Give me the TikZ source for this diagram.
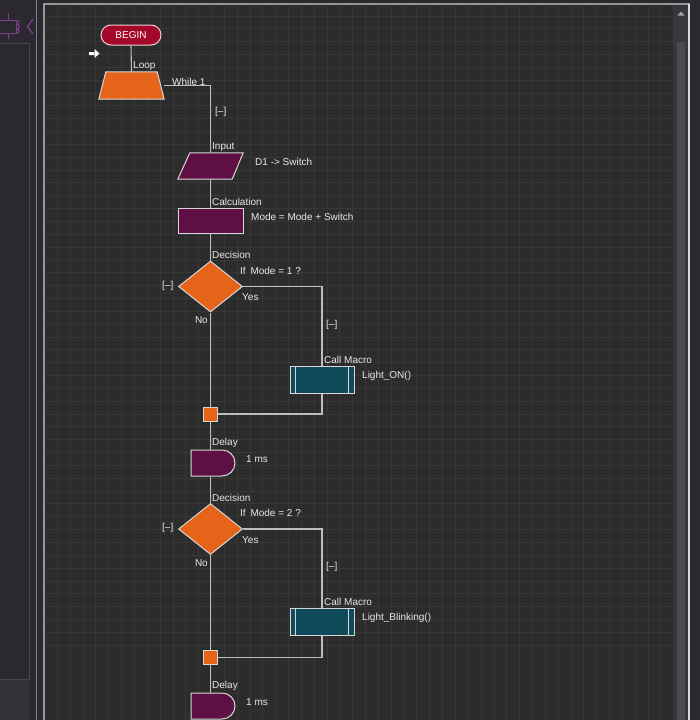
\documentclass[tikz,border=0pt]{standalone}
\usepackage{fontspec}
\setmainfont{Liberation Sans}
\usetikzlibrary{shapes.geometric,shapes.misc}
\definecolor{canvasbg}{RGB}{45,44,45}
\definecolor{gridc}{RGB}{56,55,56}
\definecolor{panelbg}{RGB}{43,40,47}
\definecolor{panelbg2}{RGB}{52,48,56}
\definecolor{panelline}{RGB}{74,70,80}
\definecolor{edgec}{RGB}{150,150,150}
\definecolor{txt}{RGB}{232,232,232}
\definecolor{wirec}{RGB}{190,190,190}
\definecolor{shapeborder}{RGB}{215,215,215}
\definecolor{orng}{RGB}{229,100,25}
\definecolor{magen}{RGB}{94,15,68}
\definecolor{tealc}{RGB}{15,75,91}
\definecolor{redc}{RGB}{163,8,42}
\definecolor{iconc}{RGB}{125,65,140}
\definecolor{scrollbg}{RGB}{58,54,64}
\definecolor{thumbc}{RGB}{75,74,77}
\tikzset{
  shp/.style={draw=shapeborder, line width=1pt, inner sep=0pt},
  box/.style={rectangle, inner sep=0pt},
  lbl/.style={text=txt, font=\fontsize{10}{12}\selectfont, inner sep=0pt, anchor=west},
  lble/.style={lbl, anchor=east},
  wire/.style={draw=wirec, line width=1.1pt},
  callline/.style={draw=shapeborder, line width=0.8pt},
}
\begin{document}
\begin{tikzpicture}[x=1pt,y=-1pt]
\useasboundingbox (0,0) rectangle (700,720);
% backgrounds
\fill[panelbg] (0,0) rectangle (700,720);
\fill[panelbg2] (0,679) rectangle (29,720);
\draw[panelline, line width=1pt] (0,43.5) -- (29.5,43.5) -- (29.5,679) -- (0,679);
\draw[panelline!70, line width=0.6pt] (36,0) -- (36,720);
\fill[canvasbg] (44,4) rectangle (688,720);
\begin{scope}
\clip (45,5) rectangle (673,720);
\foreach \i in {0,...,50} {
  \draw[gridc, line width=0.8pt] (44.5+12.84*\i,4) -- (44.5+12.84*\i,720);
  \draw[gridc, line width=0.8pt] (44,3.1+12.84*\i) -- (688,3.1+12.84*\i);
}
\end{scope}
\draw[edgec, line width=2pt] (44,720) -- (44,4) -- (690,4);
% scrollbar
\fill[scrollbg] (673,5) rectangle (688,720);
\fill[thumbc] (677,42) rectangle (685,720);
\fill[black!35] (677.5,15.5) -- (681,11.5) -- (684.5,15.5) -- cycle;
\draw[black!15, line width=2pt] (689,4) -- (689,720);
% icon top-left
\draw[iconc, line width=1pt] (8,13) -- (8,20) (0,20) -- (16,20) -- (16,33) -- (0,33) (8,33) -- (8,39);
\draw[iconc, line width=1pt] (17,20) arc (-90:90:2.2) arc (-90:90:2.2) arc (-90:90:2.2);
\draw[iconc, line width=1.2pt] (33,19) -- (27.5,26.5) -- (33,34);
% start arrow
\fill[white] (89,52) rectangle (95,55) (94.5,49) -- (99.5,53.5) -- (94.5,58) -- cycle;

% nodes
\node[shp, rounded rectangle, fill=redc, draw=white!80!redc, minimum width=60pt, minimum height=20pt, text=white, font=\fontsize{10}{12}\selectfont] (begin) at (131,35) {BEGIN};
\node[box, minimum width=65pt, minimum height=27pt] (loop) at (131.5,85.5) {};
\filldraw[shp, fill=orng] (loop.south west) -- ([xshift=7pt]loop.north west) -- ([xshift=-7pt]loop.north east) -- (loop.south east) -- cycle;
\node[box, minimum width=65pt, minimum height=26pt] (input) at (210.5,166) {};
\filldraw[shp, fill=magen] (input.south west) -- ([xshift=12pt]input.north west) -- (input.north east) -- ([xshift=-11pt]input.south east) -- cycle;
\node[shp, rectangle, minimum width=65pt, minimum height=25pt, fill=magen] (calc) at (210.5,220.5) {};
\node[shp, diamond, minimum width=64pt, minimum height=51pt, fill=orng] (dec1) at (210.5,286.5) {};
\node[shp, rectangle, minimum width=64pt, minimum height=27pt, fill=tealc] (call1) at (322,379.5) {};
\node[shp, rectangle, minimum width=14pt, minimum height=14pt, fill=orng] (junc1) at (210.5,414) {};
\node[shp, rounded rectangle, rounded rectangle left arc=none, minimum width=44pt, minimum height=26pt, fill=magen] (delay1) at (213,463) {};
\node[shp, diamond, minimum width=64pt, minimum height=51pt, fill=orng] (dec2) at (210.5,529) {};
\node[shp, rectangle, minimum width=64pt, minimum height=27pt, fill=tealc] (call2) at (322,621.5) {};
\node[shp, rectangle, minimum width=14pt, minimum height=14pt, fill=orng] (junc2) at (210.5,657.5) {};
\node[shp, rounded rectangle, rounded rectangle left arc=none, minimum width=44pt, minimum height=26pt, fill=magen] (delay2) at (213,706) {};

\foreach \c in {call1,call2} {
  \draw[callline] ([xshift=6pt]\c.north west) -- ([xshift=6pt]\c.south west);
  \draw[callline] ([xshift=-6pt]\c.north east) -- ([xshift=-6pt]\c.south east);
}

% connectors
\draw[wire] (begin.south) -- (loop.north);
\draw[wire] (loop.east) -| (input.north);
\draw[wire] (input.south) -- (calc.north);
\draw[wire] (calc.south) -- (dec1.north);
\draw[wire] (dec1.south) -- (junc1.north);
\draw[wire] (dec1.east) -| (call1.north);
\draw[wire] (call1.south) |- (junc1.east);
\draw[wire] (junc1.south) -- (junc1.south |- delay1.north);
\draw[wire] (dec2.north |- delay1.south) -- (dec2.north);
\draw[wire] (dec2.south) -- (junc2.north);
\draw[wire] (dec2.east) -| (call2.north);
\draw[wire] (call2.south) |- (junc2.east);
\draw[wire] (junc2.south) -- (junc2.south |- delay2.north);

% labels
\node[lbl] (tloop) at (133,66) {Loop};
\node[lbl] (twhile) at (172,82) {While 1};
\node[lbl] (tc0) at (215,112) {[–]};
\node[lbl] (tinput) at (212,147) {Input};
\node[lbl] (tinputv) at (255,162) {D1 -> Switch};
\node[lbl] (tcalc) at (212,202) {Calculation};
\node[lbl] (tcalcv) at (251,217) {Mode = Mode + Switch};
\node[lbl] (tdec1) at (212,255) {Decision};
\node[lbl] (tdec1v) at (240,271) {If\hspace{2pt} Mode = 1 ?};
\node[lbl] (tyes1) at (242,297) {Yes};
\node[lble] (tno1) at (208,320) {No};
\node[lbl] (tc1) at (162,286) {[–]};
\node[lbl] (tc2) at (326,325) {[–]};
\node[lbl] (tcall1) at (324,360) {Call Macro};
\node[lbl] (tcall1v) at (362,376) {Light\_ON()};
\node[lbl] (tdelay1) at (212,443) {Delay};
\node[lbl] (tdelay1v) at (246,459) {1 ms};
\node[lbl] (tdec2) at (212,498) {Decision};
\node[lbl] (tdec2v) at (240,513) {If\hspace{2pt} Mode = 2 ?};
\node[lbl] (tyes2) at (242,540) {Yes};
\node[lble] (tno2) at (208,563) {No};
\node[lbl] (tc3) at (162,528) {[–]};
\node[lbl] (tc4) at (326,567) {[–]};
\node[lbl] (tcall2) at (324,602) {Call Macro};
\node[lbl] (tcall2v) at (362,618) {Light\_Blinking()};
\node[lbl] (tdelay2) at (212,686) {Delay};
\node[lbl] (tdelay2v) at (246,702) {1 ms};
\end{tikzpicture}
\end{document}
